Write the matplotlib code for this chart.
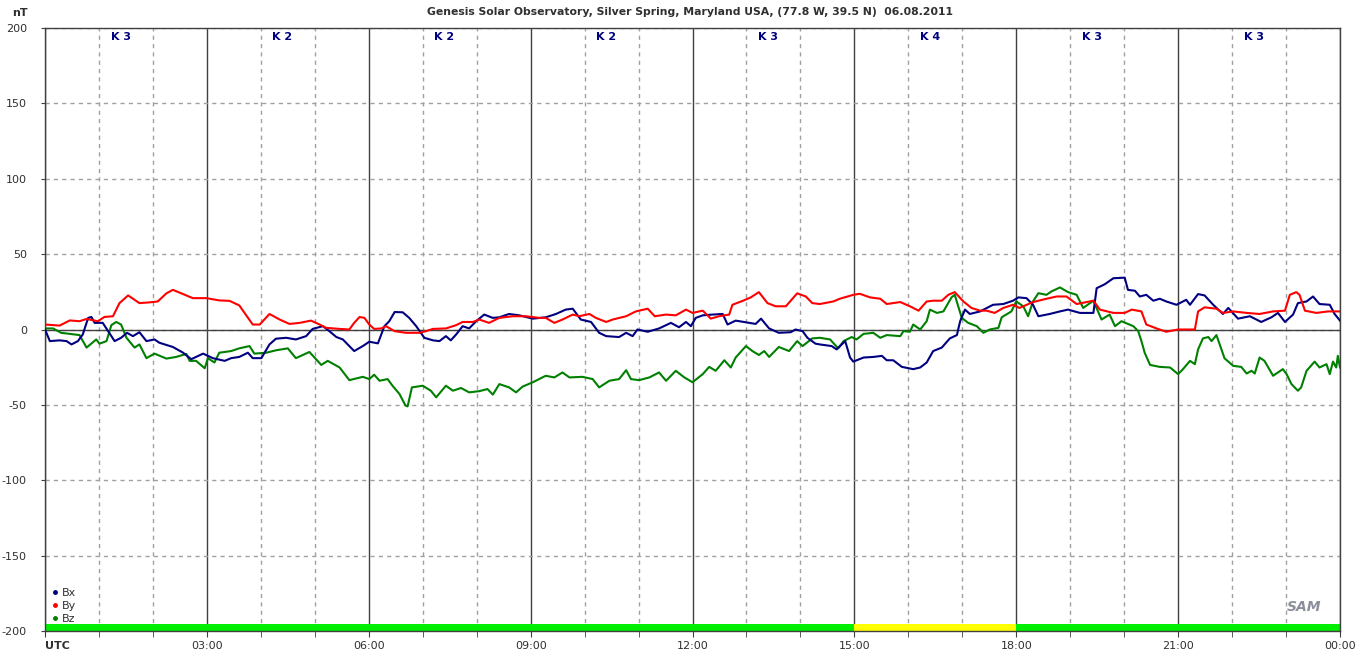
import matplotlib
matplotlib.use("Agg")
import matplotlib.pyplot as plt
from matplotlib.ticker import MultipleLocator
from matplotlib.lines import Line2D

# ---- data (hours UTC, nT) ----
bx_hours = [0, 0.09, 0.27, 0.4, 0.49, 0.61, 0.7, 0.8, 0.86, 0.92, 1.07, 1.17, 1.29, 1.41, 1.52, 1.63,
            1.75, 1.88, 2.03, 2.12, 2.37, 2.56, 2.71, 2.93, 3.11, 3.33, 3.45, 3.6, 3.76, 3.85, 4.01,
            4.16, 4.28, 4.47, 4.65, 4.84, 4.96, 5.15, 5.27, 5.4, 5.52, 5.73, 5.89, 6.01, 6.17, 6.29,
            6.38, 6.48, 6.63, 6.75, 6.88, 7.03, 7.19, 7.31, 7.43, 7.52, 7.62, 7.74, 7.86, 7.99, 8.14,
            8.3, 8.42, 8.6, 8.79, 9.04, 9.28, 9.47, 9.65, 9.78, 9.93, 10.12, 10.27, 10.4, 10.64, 10.77,
            10.89, 10.98, 11.17, 11.38, 11.6, 11.75, 11.88, 11.97, 12.06, 12.19, 12.37, 12.56, 12.65,
            12.8, 13.05, 13.17, 13.27, 13.42, 13.6, 13.82, 13.91, 14.04, 14.13, 14.28, 14.36, 14.58,
            14.67, 14.83, 14.92, 14.98, 15.17, 15.35, 15.51, 15.6, 15.72, 15.88, 16.09, 16.22, 16.34,
            16.46, 16.62, 16.77, 16.9, 16.96, 17.05, 17.14, 17.33, 17.57, 17.76, 17.94, 18.04, 18.19,
            18.31, 18.41, 18.62, 18.81, 18.96, 19.18, 19.43, 19.49, 19.64, 19.8, 20.01, 20.07, 20.2,
            20.29, 20.41, 20.54, 20.66, 20.78, 20.97, 21.15, 21.22, 21.37, 21.49, 21.65, 21.83, 21.93,
            22.11, 22.33, 22.54, 22.73, 22.85, 22.98, 23.13, 23.22, 23.38, 23.5, 23.62, 23.81, 23.9, 24.0]
bx_values = [0, -7.7, -7.2, -7.7, -9.9, -7.7, -3.3, 7.7, 8.3, 4.4, 4.4, -1.1, -7.7, -5.5, -2.2, -4.4,
             -1.8, -7.7, -6.6, -8.8, -11.6, -15.4, -19.7, -16, -19, -20.8, -19, -18.2, -15.4, -19, -19,
             -9.9, -6.1, -5.5, -6.6, -4.4, 0.4, 2.2, -1.1, -5, -6.6, -14.3, -11, -8.1, -9.2, 2.2,
             5.5, 11.6, 11.4, 7.7, 2.2, -5.5, -7.2, -7.7, -4.4, -7.2, -3.3, 2.2, 0.7, 5.5, 9.9,
             7.7, 8.1, 10.3, 9.4, 7.2, 8.1, 10.3, 13.2, 13.8, 6.6, 5, -2.2, -4.4, -5, -2.2,
             -4.4, 0, -1.5, 0.7, 4.4, 1.5, 5, 2.2, 7.7, 9.4, 9.9, 10.3, 3.3,
             5.9, 4.4, 3.7, 7.2, 0.7, -2.2, -1.8, 0, -1.1, -5.5, -9.4, -9.9, -11,
             -13.2, -7.7, -18.6, -21.3, -18.6, -18.2, -17.5, -20.4, -20.4, -24.8, -26.3, -25.2, -21.9,
             -14.3, -12, -5.9, -3.7, 5.5, 13.2, 10.3, 12, 16.4, 16.9, 19.1, 21.3, 20.8,
             16.4, 8.8, 10.3, 12, 13.2, 11, 11, 27.4, 30, 34, 34.4, 26.3, 25.7,
             21.9, 23, 19.1, 20.4, 18.6, 16.4, 19.7, 16.4, 23.5, 22.6, 16.4, 10.3, 14.3,
             7.2, 8.8, 5, 8.1, 11, 5, 9.9, 17.5, 18.6, 21.9, 16.9, 16.4, 10.3, 5.9]

by_hours = [0, 0.27, 0.46, 0.64, 0.77, 0.98, 1.1, 1.26, 1.38, 1.54, 1.75, 1.94, 2.09, 2.25, 2.37, 2.62,
            2.74, 2.99, 3.23, 3.42, 3.6, 3.85, 3.98, 4.16, 4.35, 4.53, 4.72, 4.93, 5.09, 5.21, 5.46,
            5.64, 5.73, 5.83, 5.92, 6.01, 6.1, 6.23, 6.32, 6.48, 6.69, 6.94, 7.06, 7.19, 7.43, 7.62,
            7.74, 7.93, 8.05, 8.23, 8.42, 8.67, 8.91, 9.16, 9.28, 9.44, 9.59, 9.78, 9.9, 10.09, 10.21,
            10.4, 10.52, 10.77, 10.95, 11.17, 11.3, 11.51, 11.69, 11.88, 12.0, 12.19, 12.34, 12.49,
            12.68, 12.74, 12.93, 13.08, 13.23, 13.39, 13.54, 13.73, 13.94, 14.1, 14.22, 14.36, 14.61,
            14.73, 14.98, 15.1, 15.29, 15.48, 15.6, 15.85, 16.03, 16.19, 16.34, 16.46, 16.62, 16.74,
            16.86, 17.02, 17.17, 17.33, 17.45, 17.6, 17.76, 17.94, 18.06, 18.31, 18.56, 18.75, 18.93,
            19.12, 19.43, 19.55, 19.8, 20.01, 20.14, 20.32, 20.41, 20.6, 20.78, 21.0, 21.31, 21.37,
            21.49, 21.71, 21.83, 22.02, 22.27, 22.51, 22.76, 22.98, 23.07, 23.19, 23.25, 23.35, 23.56,
            23.78, 24.0]
by_values = [3.3, 2.6, 6, 5.5, 7, 5.5, 8.3, 8.8, 17.5, 22.6, 17.5, 18, 18.6, 24, 26.3, 22.6,
             20.8, 20.8, 19.3, 19, 16, 3.3, 3.3, 10.3, 6.6, 3.7, 4.4, 5.9, 3.3, 1.1, 0.4,
             0, 4.4, 8.3, 7.7, 3.3, 0.4, 0.7, 2.2, -1.1, -2.2, -2.2, -1.1, 0.4, 0.7, 2.9,
             5, 5, 6.6, 4.4, 7.7, 8.8, 8.8, 7.7, 7.7, 4.4, 6.6, 9.9, 8.8, 10.3, 7.7,
             5, 6.6, 8.8, 12, 13.8, 8.8, 9.9, 9.4, 13.2, 11, 12.5, 7.2, 8.8,
             9.9, 16.4, 19, 21.3, 24.8, 17.5, 15.4, 15.4, 24, 21.9, 17.5, 16.9, 18.6,
             20.4, 23, 23.7, 21.3, 20.4, 16.9, 18.2, 15.4, 12.5, 18.6, 19.1, 19.1, 23,
             24.8, 18.6, 14.3, 12.5, 12.5, 11, 14.3, 16.4, 14.3, 18.2, 20.4, 21.9, 21.9,
             16.9, 19.1, 13.2, 11, 11, 13.2, 12, 3.3, 0.7, -1.5, 0, 0, 12,
             14.7, 13.8, 11, 12, 11, 10.3, 12, 12.5, 23, 24.8, 23, 12.5, 11,
             12, 12]

bz_hours = [0, 0.15, 0.3, 0.46, 0.64, 0.77, 0.95, 1.01, 1.14, 1.23, 1.32, 1.41, 1.51, 1.66, 1.75, 1.88,
            2.03, 2.25, 2.43, 2.62, 2.68, 2.8, 2.96, 3.02, 3.14, 3.23, 3.45, 3.6, 3.79, 3.88, 4.1,
            4.28, 4.5, 4.65, 4.9, 5.12, 5.24, 5.46, 5.64, 5.89, 6.01, 6.1, 6.2, 6.35, 6.44, 6.57,
            6.68, 6.72, 6.8, 7.0, 7.15, 7.25, 7.43, 7.56, 7.71, 7.86, 8.05, 8.2, 8.3, 8.42, 8.6,
            8.73, 8.85, 9.04, 9.28, 9.44, 9.59, 9.72, 9.96, 10.15, 10.27, 10.46, 10.64, 10.77, 10.86,
            11.01, 11.2, 11.38, 11.51, 11.69, 11.85, 12.0, 12.19, 12.31, 12.43, 12.59, 12.71, 12.8,
            12.99, 13.11, 13.23, 13.33, 13.42, 13.6, 13.79, 13.94, 14.04, 14.22, 14.36, 14.55, 14.7,
            14.8, 14.95, 15.04, 15.17, 15.35, 15.48, 15.6, 15.85, 15.91, 16.03, 16.09, 16.22, 16.34,
            16.4, 16.53, 16.65, 16.8, 16.86, 16.99, 17.11, 17.27, 17.39, 17.51, 17.67, 17.73, 17.91,
            18.0, 18.13, 18.22, 18.31, 18.41, 18.56, 18.65, 18.81, 18.96, 19.12, 19.24, 19.43, 19.58,
            19.73, 19.83, 19.95, 20.17, 20.26, 20.32, 20.38, 20.48, 20.66, 20.85, 21.0, 21.09, 21.22,
            21.31, 21.37, 21.46, 21.56, 21.62, 21.71, 21.86, 22.02, 22.17, 22.27, 22.36, 22.42, 22.51,
            22.6, 22.76, 22.94, 23.01, 23.1, 23.22, 23.28, 23.38, 23.53, 23.62, 23.75, 23.81, 23.87,
            23.93, 23.96, 24.0]
bz_values = [0.7, 0.7, -2.2, -2.9, -3.7, -12, -6.6, -9.4, -7.7, 2.9, 5, 3.3, -5.5, -12, -9.9, -19,
             -16, -19.3, -18.2, -16.2, -20.8, -20.8, -25.7, -19, -21.9, -15.4, -14.3, -12.5, -11, -16, -15.4,
             -13.8, -12.5, -19, -14.9, -23.5, -20.8, -25.2, -33.6, -31.4, -32.9, -30, -34, -32.9, -37.3, -42.8,
             -50.4, -51, -38.4, -37.3, -40.6, -45, -37.3, -40.6, -38.8, -41.7, -40.9, -39.5, -43.2, -36.2, -38.4,
             -41.7, -37.9, -35, -30.7, -31.8, -28.5, -31.8, -31.4, -32.9, -38.4, -34, -32.9, -27, -32.9,
             -33.6, -31.8, -28.5, -34, -27.4, -31.8, -35, -29.6, -24.8, -27.4, -20.4, -25.2, -18.6,
             -11, -14.3, -16.9, -14.3, -18.2, -11.6, -14.3, -7.7, -11, -5.9, -5.5, -6.6, -12.5,
             -7.7, -5, -6.6, -2.9, -2.2, -5.5, -3.7, -4.4, -1.1, -1.5, 3.3, 0, 5.5,
             13.2, 11, 12, 21.3, 23, 7.7, 4.4, 2.2, -2.2, 0, 1.1, 8.1, 12,
             18.6, 15.4, 8.8, 18.6, 24.1, 23, 25.2, 27.9, 24.8, 23, 14.3, 19.1, 6.6,
             9.9, 2.2, 5.5, 2.2, -1.1, -7.7, -15.4, -23.5, -24.8, -25.2, -29.6, -26.3, -20.8,
             -23, -13.2, -5.9, -5, -7.7, -3.7, -19.1, -24.1, -24.8, -29.2, -27.4, -29.2, -18.6,
             -20.8, -30.7, -26.3, -29.6, -36.2, -40.6, -38.4, -27.4, -21.3, -25.2, -23, -29.6, -21.3,
             -25.2, -17.5, -25.2]

k_index = [3, 2, 2, 2, 3, 4, 3, 3]
x_labels = ["UTC", "03:00", "06:00", "09:00", "12:00", "15:00", "18:00", "21:00", "00:00"]
series_names = ["Bx", "By", "Bz"]
series_colors = ["#000080", "#ff0000", "#008000"]

title = "Genesis Solar Observatory, Silver Spring, Maryland USA, (77.8 W, 39.5 N)  06.08.2011"

plt.rcParams['font.family'] = ['DejaVu Sans']
plt.rcParams['axes.unicode_minus'] = False
fig = plt.figure(figsize=(13.6, 6.57), dpi=100)
ax = fig.add_axes([45 / 1360, 26 / 657, 1295 / 1360, 603 / 657])

dark = "#404040"

# grid
ax.set_xlim(0, 24)
ax.set_ylim(-200, 200)
ax.xaxis.set_major_locator(MultipleLocator(3))
ax.xaxis.set_minor_locator(MultipleLocator(1))
ax.yaxis.set_major_locator(MultipleLocator(50))
ax.grid(which='major', axis='x', color=dark, lw=1.0, ls='-')
ax.grid(which='minor', axis='x', color="#a0a0a0", lw=1.0, ls=(0, (3, 3)))
ax.grid(which='major', axis='y', color="#a0a0a0", lw=1.0, ls=(0, (3, 3)))
ax.axhline(0, color=dark, lw=1.0, zorder=1.5)
ax.set_axisbelow(True)

# K-index bar at the bottom
for i, k in enumerate(k_index):
    col = "#ffff00" if k >= 4 else "#00ee00"
    ax.fill_between([3 * i, 3 * i + 3], -200, -195.5, color=col, lw=0, zorder=2)
    ax.text(3 * i + 1.4, 194, "K %d" % k, color="#000080", fontsize=8, fontweight='bold',
            ha='center', va='center')

# curves
ax.plot(bz_hours, bz_values, color=series_colors[2], lw=1.5, zorder=3)
ax.plot(bx_hours, bx_values, color=series_colors[0], lw=1.5, zorder=4)
ax.plot(by_hours, by_values, color=series_colors[1], lw=1.5, zorder=5)

# ticks
ax.set_xticks(range(0, 25, 3))
ax.set_xticklabels(x_labels)
first = ax.get_xticklabels()[0]
first.set_fontweight('bold')
first.set_horizontalalignment('left')
ax.tick_params(axis='x', which='both', direction='out', length=4, color=dark,
               labelsize=8, labelcolor="#303030", pad=3)
ax.tick_params(axis='y', direction='out', length=3, color=dark, labelsize=8,
               labelcolor="#303030", pad=10)
for s in ax.spines.values():
    s.set_color(dark)
    s.set_linewidth(1.0)

# legend
handles = [Line2D([], [], marker='o', ms=2.5, ls='none', color=c) for c in series_colors]
ax.legend(handles, series_names, loc='lower left', bbox_to_anchor=(0.0, 0.0), frameon=False,
          fontsize=8, handlelength=0.6, handletextpad=0.3, labelspacing=0.3,
          borderaxespad=0.2, labelcolor="#303030")

# text
fig.text(690 / 1360, 1 - 12 / 657, title, ha='center', va='center', fontsize=7.8,
         fontweight='bold', color="#303030")
fig.text(20 / 1360, 1 - 13 / 657, "nT", ha='center', va='center', fontsize=8,
         fontweight='bold', color="#303030")
ax.text(0.972, 0.04, "SAM", transform=ax.transAxes, ha='center', va='center',
        fontsize=10, style='italic', fontweight='bold', color="#8a8f9a")

fig.savefig("out.png", dpi=100)
